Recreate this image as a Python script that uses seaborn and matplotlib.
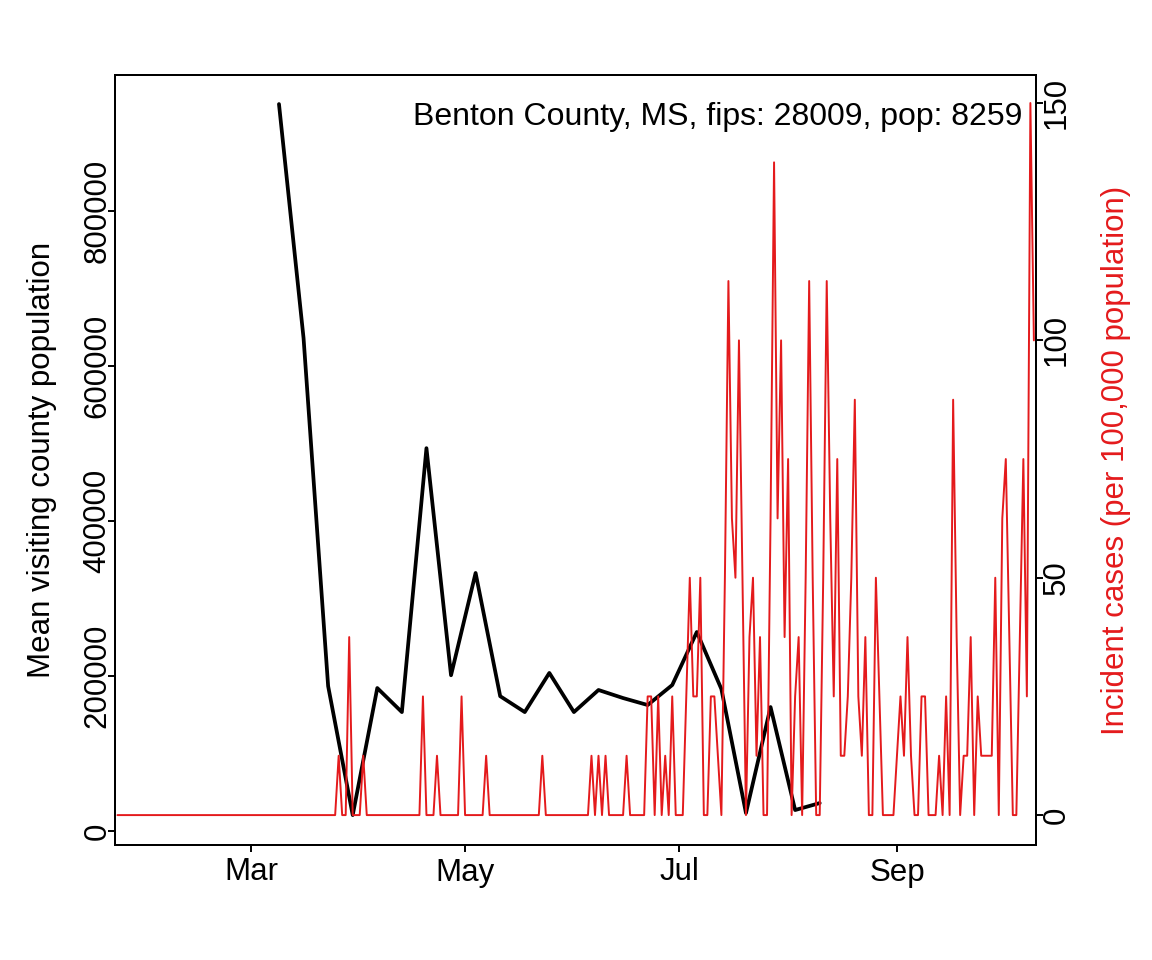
import numpy as np
import pandas as pd
import matplotlib
matplotlib.use("Agg")
import matplotlib.pyplot as plt
import matplotlib.dates as mdates
import seaborn as sns

# ---------------- data ----------------
visit_dates = pd.date_range("2020-03-09", periods=23, freq="7D")
visitors = [938000, 636000, 187000, 20600, 184500, 153500, 494000, 201000,
            333000, 174000, 153500, 204000, 153500, 182000, 171600, 162600,
            188400, 256800, 183200, 23200, 160000, 27100, 36100]

case_dates = pd.date_range("2020-01-23", "2020-10-10", freq="D")
jan = [0, 0, 0, 0, 0, 0, 0, 0, 0]
feb = [0, 0, 0, 0, 0, 0, 0, 0, 0, 0, 0, 0, 0, 0, 0, 0, 0, 0, 0, 0,
       0, 0, 0, 0, 0, 0, 0, 0, 0]
mar = [0, 0, 0, 0, 0, 0, 0, 0, 0, 0, 0, 0, 0, 0, 0, 0, 0, 0, 0, 0,
       0, 0, 0, 0, 0, 12.5, 0, 0, 37.5, 0, 0]
apr = [0, 12.5, 0, 0, 0, 0, 0, 0, 0, 0, 0, 0, 0, 0, 0, 0, 0, 0, 25, 0,
       0, 0, 12.5, 0, 0, 0, 0, 0, 0, 25]
may = [0, 0, 0, 0, 0, 0, 12.5, 0, 0, 0, 0, 0, 0, 0, 0, 0, 0, 0, 0, 0,
       0, 0, 12.5, 0, 0, 0, 0, 0, 0, 0, 0]
jun = [0, 0, 0, 0, 0, 12.5, 0, 12.5, 0, 12.5, 0, 0, 0, 0, 0, 12.5, 0, 0, 0, 0,
       0, 25, 25, 0, 25, 0, 12.5, 0, 25, 0]
jul = [0, 0, 25, 50, 25, 25, 50, 0, 0, 25, 25, 12.5, 0, 50, 112.5, 62.5, 50, 100, 50, 0,
       37.5, 50, 12.5, 37.5, 0, 0, 62.5, 137.5, 62.5, 100, 37.5]
aug = [75, 0, 25, 37.5, 0, 50, 112.5, 50, 0, 0, 50, 112.5, 62.5, 25, 75, 12.5, 12.5, 25, 50, 87.5,
       25, 12.5, 37.5, 0, 0, 50, 25, 0, 0, 0, 0]
sep = [12.5, 25, 12.5, 37.5, 12.5, 0, 0, 25, 25, 0, 0, 0, 12.5, 0, 25, 0, 87.5, 37.5, 0, 12.5,
       12.5, 37.5, 0, 25, 12.5, 12.5, 12.5, 12.5, 50, 0]
octo = [62.5, 75, 37.5, 0, 0, 37.5, 75, 25, 150, 100]
incidence = jan + feb + mar + apr + may + jun + jul + aug + sep + octo

month_ticks = pd.to_datetime(["2020-03-01", "2020-05-01", "2020-07-01", "2020-09-01"])
month_labels = ["Mar", "May", "Jul", "Sep"]
left_ticks = [0, 200000, 400000, 600000, 800000]
right_ticks = [0, 50, 100, 150]
title_text = "Benton County, MS, fips: 28009, pop: 8259"

RED = "#E41A1C"
FS = 22.5

# ---------------- style ----------------
sns.set_theme(style="ticks")
plt.rcParams['font.family'] = ['Liberation Sans', 'DejaVu Sans']
plt.rcParams['axes.linewidth'] = 1.4

fig = plt.figure(figsize=(11.52, 9.6), dpi=100)
ax = fig.add_axes([115 / 1152, 1 - 845 / 960, 921 / 1152, 770 / 960])
ax2 = ax.twinx()

df_v = pd.DataFrame({"date": visit_dates, "visitors": visitors})
df_c = pd.DataFrame({"date": case_dates, "incidence": incidence})

sns.lineplot(data=df_v, x="date", y="visitors", ax=ax, color="black", lw=2.7)
sns.lineplot(data=df_c, x="date", y="incidence", ax=ax2, color=RED, lw=1.4)

x0 = pd.Timestamp("2020-03-01") - pd.Timedelta(days=38.7)
x1 = pd.Timestamp("2020-03-01") + pd.Timedelta(days=223.6)
ax.set_xlim(x0, x1)
ax.set_ylim(-18000, 975500)
ax2.set_ylim(-6.3, 155.9)

ax.set_xticks(month_ticks)
ax.set_xticklabels(month_labels)
ax.set_yticks(left_ticks)
ax.set_yticklabels([str(t) for t in left_ticks], rotation=90, va="center")
ax2.set_yticks(right_ticks)
ax2.set_yticklabels([str(t) for t in right_ticks], rotation=90, va="center")

for a in (ax, ax2):
    for s in a.spines.values():
        s.set_visible(True)
        s.set_linewidth(1.4)
        s.set_color("black")

ax.tick_params(axis="x", length=5, width=1.4, pad=4, labelsize=FS, colors="black")
ax.tick_params(axis="y", length=5, width=1.4, pad=-3.3, labelsize=FS, colors="black")
ax2.tick_params(axis="y", length=5, width=1.4, pad=-1.2, labelsize=FS, colors="black")

ax.set_xlabel("")
ax.set_ylabel("Mean visiting county population", fontsize=FS, color="black")
ax2.set_ylabel("Incident cases (per 100,000 population)", fontsize=FS, color=RED)
ax.yaxis.set_label_coords((57 - 115) / 921, 0.5)
ax2.yaxis.set_label_coords((1101 - 115) / 921, 0.5)

ax.text((1022 - 115) / 921, (845 - 117) / 770, title_text, transform=ax.transAxes,
        ha="right", va="center", fontsize=23, color="black")

ax.grid(False)
ax2.grid(False)
fig.savefig("out.png", dpi=100, facecolor="white")
